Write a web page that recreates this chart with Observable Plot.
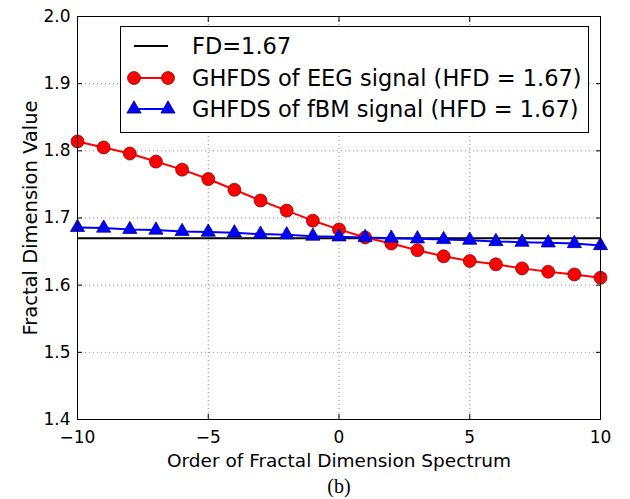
<!DOCTYPE html>
<html>
<head>
<meta charset="utf-8">
<script src="https://cdn.jsdelivr.net/npm/d3@7"></script>
<script src="https://cdn.jsdelivr.net/npm/@observablehq/plot@0.6"></script>
<style>
  body { margin: 0; background: #fff; }
  #chart { position: relative; width: 630px; height: 499px; }
</style>
</head>
<body>
<div id="chart"></div>
<script>
const orders = [-10, -9, -8, -7, -6, -5, -4, -3, -2, -1, 0, 1, 2, 3, 4, 5, 6, 7, 8, 9, 10];
const eegValues = [1.814, 1.805, 1.796, 1.784, 1.772, 1.758, 1.742, 1.726, 1.711, 1.696, 1.683, 1.671, 1.662, 1.652, 1.643, 1.636, 1.631, 1.625, 1.620, 1.616, 1.611];
const fbmValues = [1.686, 1.685, 1.683, 1.682, 1.680, 1.679, 1.678, 1.676, 1.675, 1.673, 1.672, 1.671, 1.670, 1.669, 1.668, 1.667, 1.665, 1.664, 1.663, 1.662, 1.659];
const fdValue = 1.67;
const xTicks = [-10, -5, 0, 5, 10];
const yTicks = [1.4, 1.5, 1.6, 1.7, 1.8, 1.9, 2.0];
const seriesNames = ["FD=1.67", "GHFDS of EEG signal (HFD = 1.67)", "GHFDS of fBM signal (HFD = 1.67)"];
const xLabel = "Order of Fractal Dimension Spectrum";
const yLabel = "Fractal Dimension Value";
const caption = "(b)";

const eeg = orders.map((x, i) => ({x, y: eegValues[i]}));
const fbm = orders.map((x, i) => ({x, y: fbmValues[i]}));

const font = "DejaVu Sans";
const gridStyle = {stroke: "#000", strokeOpacity: 0.45, strokeDasharray: "1,3", strokeWidth: 1};
const triR = 5.3;

const plot = Plot.plot({
  width: 630,
  height: 499,
  marginTop: 16,
  marginBottom: 80,
  marginLeft: 77,
  marginRight: 30,
  style: {fontFamily: font, fontSize: "17px", color: "#000", background: "#fff"},
  x: {domain: [-10, 10]},
  y: {domain: [1.4, 2.0]},
  marks: [
    Plot.gridX(xTicks.slice(1, -1), gridStyle),
    Plot.gridY(yTicks.slice(1, -1), gridStyle),
    Plot.ruleY([fdValue], {stroke: "#000", strokeWidth: 2}),
    Plot.line(eeg, {x: "x", y: "y", stroke: "#ff0000", strokeWidth: 2}),
    Plot.dot(eeg, {x: "x", y: "y", r: 6.5, fill: "#ff0000", stroke: "#700000", strokeWidth: 0.7}),
    Plot.line(fbm, {x: "x", y: "y", stroke: "#0000ff", strokeWidth: 2}),
    Plot.dot(fbm, {x: "x", y: "y", symbol: "triangle", r: triR, fill: "#0000ff", stroke: "#000070", strokeWidth: 0.7}),
    Plot.frame({stroke: "#000", strokeWidth: 1}),
    Plot.axisX(xTicks, {anchor: "bottom", tickSize: 0, tickPadding: 11, tickFormat: d3.format("d"), label: null, fontSize: 17}),
    Plot.axisX(xTicks, {anchor: "bottom", tickSize: -5, tickFormat: () => "", label: null}),
    Plot.axisX(xTicks, {anchor: "top", tickSize: -5, tickFormat: () => "", label: null}),
    Plot.axisY(yTicks, {anchor: "left", tickSize: 0, tickPadding: 7, tickFormat: d3.format(".1f"), label: null, fontSize: 17}),
    Plot.axisY(yTicks, {anchor: "left", tickSize: -5, tickFormat: () => "", label: null}),
    Plot.axisY(yTicks, {anchor: "right", tickSize: -5, tickFormat: () => "", label: null}),
    Plot.text([xLabel], {text: d => d, frameAnchor: "bottom", dy: 47, fontSize: 18.5, fill: "#000"}),
    Plot.text([yLabel], {text: d => d, frameAnchor: "left", textAnchor: "middle", dx: -47, rotate: -90, fontSize: 19.5, fill: "#000"}),
    Plot.text([caption], {text: d => d, frameAnchor: "bottom", dy: 73, fontSize: 20, fontFamily: "Liberation Serif", fill: "#000"})
  ]
});

document.getElementById("chart").appendChild(plot);

// Legend (layout in pixels, entries from seriesNames)
const svg = d3.select(plot);
const lg = svg.append("g").attr("class", "legend").attr("text-anchor", "start");
lg.append("rect")
  .attr("x", 120.5).attr("y", 26.5).attr("width", 468).attr("height", 106)
  .attr("fill", "#fff").attr("stroke", "#000").attr("stroke-width", 1);
const rowY = [46, 78, 109];
const styles = [
  {color: "#000", marker: null},
  {color: "#ff0000", marker: "circle", edge: "#700000"},
  {color: "#0000ff", marker: "triangle", edge: "#000070"}
];
seriesNames.forEach((name, i) => {
  const y = rowY[i];
  const s = styles[i];
  lg.append("line").attr("x1", 134).attr("x2", 168).attr("y1", y).attr("y2", y)
    .attr("stroke", s.color).attr("stroke-width", 2);
  [134, 168].forEach(cx => {
    if (s.marker === "circle") {
      lg.append("circle").attr("cx", cx).attr("cy", y).attr("r", 6.5)
        .attr("fill", s.color).attr("stroke", s.edge).attr("stroke-width", 0.7);
    } else if (s.marker === "triangle") {
      lg.append("path").attr("transform", `translate(${cx},${y})`)
        .attr("d", d3.symbol(d3.symbolTriangle, Math.PI * triR * triR)())
        .attr("fill", s.color).attr("stroke", s.edge).attr("stroke-width", 0.7);
    }
  });
  lg.append("text").attr("x", 192).attr("y", y).attr("dy", "0.36em")
    .attr("text-anchor", "start")
    .attr("font-family", font).attr("font-size", 22.5).attr("fill", "#000")
    .text(name);
});
</script>
</body>
</html>
